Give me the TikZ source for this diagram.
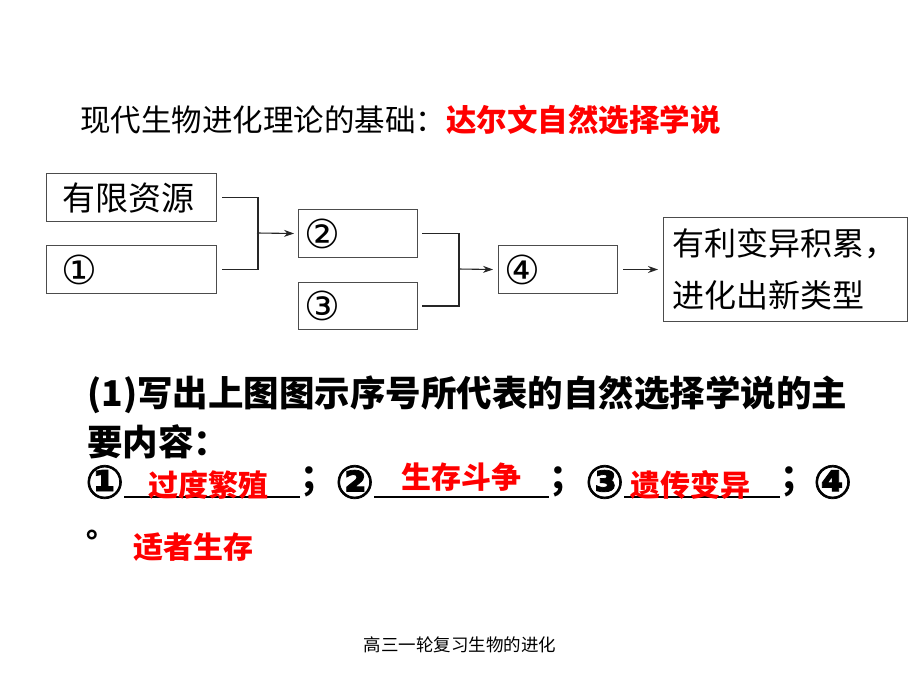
\documentclass[tikz,border=0pt]{standalone}
\usepackage{fontspec}
\usepackage{xcolor}
\usepackage{tikz}
\usetikzlibrary{arrows.meta,positioning,calc}
\newfontfamily\cjk{Noto Sans CJK SC}
\newfontfamily\sym{DejaVu Sans}
\newfontfamily\symb[FakeBold=1.6]{DejaVu Sans}
\newcommand\boxnum[1]{{\sym\fontsize{40}{36}\selectfont #1}}
\newcommand\qnum[1]{{\symb\fontsize{46}{40}\selectfont #1}}

\begin{document}
\begin{tikzpicture}[
    x=1pt, y=-1pt,
    box/.style={draw=black!70, line width=1pt, inner ysep=0pt, minimum height=48pt,
                align=left, font=\cjk\fontsize{33}{36}\selectfont},
    link/.style={line width=1.1pt, draw=black!85},
    arrow/.style={link, -{Stealth[length=10pt,width=7pt]}},
    title/.style={font=\cjk\fontsize{30.5}{36}\selectfont, inner sep=0pt},
    qtext/.style={font=\cjk\bfseries\fontsize{35.5}{40}\selectfont, inner sep=0pt},
    answer/.style={font=\cjk\bfseries\fontsize{30}{34}\selectfont, text=red, inner sep=0pt},
    uline/.style={line width=1.3pt, draw=black},
]
\path[use as bounding box, fill=white] (0,0) rectangle (920,690);

% ── Title ──
\node[title, anchor=west] (head) at (80,120)
    {现代生物进化理论的基础：\textcolor{red}{\bfseries 达尔文自然选择学说}};

% ── Flow boxes ──
\node[box, anchor=north west, text width=138pt, inner xsep=16pt] (res) at (46,173) {有限资源};
\node[box, anchor=north west, text width=140pt, inner xsep=15pt] (b1) at (46,245) {\boxnum{①}};
\node[box, anchor=north west, text width=107pt, inner xsep=6pt] (b2) at (298,209) {\boxnum{②}};
\node[box, anchor=north west, text width=107pt, inner xsep=6pt, minimum height=47pt] (b3) at (298,282) {\boxnum{③}};
\node[box, anchor=north west, text width=107pt, inner xsep=6pt] (b4) at (498,245) {\boxnum{④}};
\node[box, anchor=north west, text width=226pt, inner xsep=9pt, minimum height=104pt,
      font=\cjk\fontsize{32}{52}\selectfont] (result) at (663,217) {有利变异积累，\\进化出新类型};

% ── Connectors ──
\coordinate (j1) at (257,233);
\coordinate (j2) at (458,269);
\draw[link] ([xshift=5pt]res.east) -- ++(36,0) |- ([xshift=5pt]b1.east);
\draw[arrow] (j1) -- ([xshift=-4pt]b2.west);
\draw[link] ([xshift=4pt]b2.east) -- ++(37,0) |- ([xshift=4pt]b3.east);
\draw[arrow] (j2) -- ([xshift=-5pt]b4.west);
\draw[arrow] ([xshift=5pt]b4.east) -- ([xshift=-5pt]result.west);

% ── Question ──
\node[qtext, anchor=west] (q1) at (87,395) {(1)写出上图图示序号所代表的自然选择学说的主};
\node[qtext, anchor=west] (q2) at (87,442) {要内容：};

\node[qtext, anchor=west] (n1) at (85,482) {\qnum{①}};
\node[qtext, anchor=west] (s1) at (300,482) {；};
\node[qtext, anchor=west] (n2) at (335,482) {\qnum{②}};
\node[qtext, anchor=west] (s2) at (549,482) {；};
\node[qtext, anchor=west] (n3) at (585,482) {\qnum{③}};
\node[qtext, anchor=west] (s3) at (780,482) {；};
\node[qtext, anchor=west] (n4) at (813,482) {\qnum{④}};
\node[qtext, anchor=base west, font=\cjk\bfseries\fontsize{30}{34}\selectfont] (stop) at (86,537) {。};

\draw[uline] (n1.east |- 0,497) -- (s1.west |- 0,497);
\draw[uline] (n2.east |- 0,497) -- (s2.west |- 0,497);
\draw[uline] (n3.east |- 0,497) -- (s3.west |- 0,497);

% ── Answers ──
\node[answer] (a1) at (208,485) {过度繁殖};
\node[answer] (a2) at (461,477) {生存斗争};
\node[answer] (a3) at (690,485) {遗传变异};
\node[answer] (a4) at (193,547) {适者生存};

% ── Footer ──
\node[font=\cjk\fontsize{17.5}{20}\selectfont, inner sep=0pt] (foot) at (460,645) {高三一轮复习生物的进化};

\end{tikzpicture}
\end{document}
